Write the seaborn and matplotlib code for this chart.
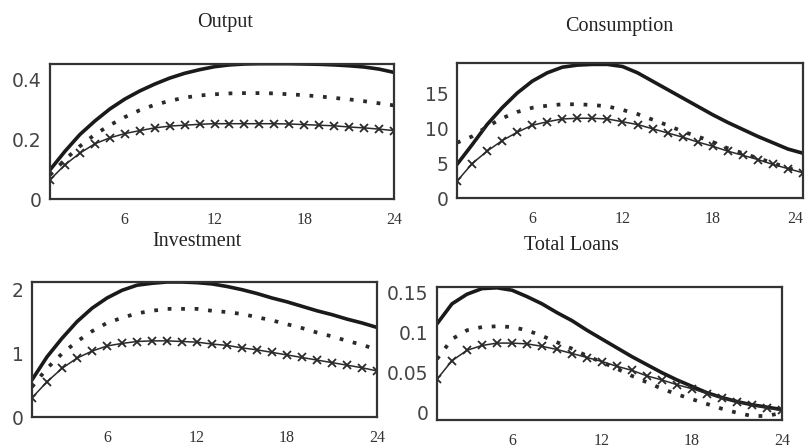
import matplotlib
matplotlib.use("Agg")
import matplotlib.pyplot as plt
import numpy as np
import pandas as pd
import seaborn as sns

# horizon (quarters)
periods = list(range(1, 25))
xticks = [6, 12, 18, 24]

# Output
output_solid = [0.097, 0.159, 0.215, 0.26, 0.30, 0.333, 0.36, 0.383, 0.403, 0.419, 0.431, 0.441,
                0.447, 0.45, 0.451, 0.451, 0.451, 0.45, 0.449, 0.447, 0.444, 0.440, 0.433, 0.422]
output_dotted = [0.08, 0.131, 0.176, 0.215, 0.246, 0.273, 0.296, 0.314, 0.327, 0.338, 0.345, 0.349,
                 0.352, 0.353, 0.353, 0.352, 0.349, 0.346, 0.342, 0.337, 0.332, 0.326, 0.319, 0.312]
output_cross = [0.064, 0.114, 0.153, 0.184, 0.204, 0.218, 0.228, 0.237, 0.243, 0.246, 0.249, 0.251,
                0.251, 0.251, 0.251, 0.251, 0.250, 0.248, 0.246, 0.244, 0.240, 0.237, 0.233, 0.228]

# Consumption
cons_solid = [4.8, 7.6, 10.5, 12.9, 15.0, 16.7, 17.9, 18.7, 19.0, 19.1, 19.1, 18.8,
              17.9, 16.7, 15.5, 14.3, 13.1, 11.9, 10.8, 9.8, 8.8, 7.9, 7.0, 6.4]
cons_dotted = [7.9, 8.8, 10.2, 11.4, 12.3, 12.9, 13.2, 13.4, 13.4, 13.3, 13.1, 12.6,
               12.0, 11.2, 10.4, 9.5, 8.8, 8.0, 7.1, 6.4, 5.7, 5.0, 4.3, 3.6]
cons_cross = [2.4, 4.9, 6.7, 8.2, 9.4, 10.4, 10.9, 11.3, 11.4, 11.4, 11.3, 10.9,
              10.5, 9.9, 9.3, 8.7, 8.0, 7.4, 6.7, 6.1, 5.5, 4.8, 4.2, 3.6]

# Investment
inv_solid = [0.58, 0.94, 1.23, 1.49, 1.70, 1.86, 1.98, 2.06, 2.09, 2.11, 2.11, 2.10,
             2.08, 2.04, 1.99, 1.93, 1.86, 1.80, 1.73, 1.66, 1.60, 1.53, 1.47, 1.40]
inv_dotted = [0.47, 0.76, 0.99, 1.18, 1.34, 1.47, 1.55, 1.62, 1.66, 1.69, 1.69, 1.69,
              1.66, 1.64, 1.61, 1.56, 1.51, 1.45, 1.39, 1.32, 1.26, 1.19, 1.13, 1.05]
inv_cross = [0.30, 0.55, 0.76, 0.92, 1.03, 1.11, 1.15, 1.18, 1.19, 1.19, 1.18, 1.17,
             1.14, 1.12, 1.08, 1.05, 1.01, 0.97, 0.93, 0.89, 0.85, 0.81, 0.77, 0.72]

# Total loans
loans_solid = [0.111, 0.136, 0.148, 0.155, 0.156, 0.153, 0.145, 0.136, 0.125, 0.115, 0.103, 0.092,
               0.081, 0.070, 0.060, 0.050, 0.041, 0.033, 0.025, 0.019, 0.014, 0.010, 0.007, 0.004]
loans_dotted = [0.067, 0.092, 0.103, 0.107, 0.108, 0.107, 0.103, 0.096, 0.088, 0.080, 0.071, 0.063,
                0.055, 0.046, 0.038, 0.030, 0.023, 0.017, 0.011, 0.005, 0.0, -0.004, -0.004, 0.0]
loans_cross = [0.042, 0.065, 0.078, 0.084, 0.087, 0.087, 0.086, 0.083, 0.079, 0.074, 0.069, 0.064,
               0.058, 0.053, 0.046, 0.041, 0.035, 0.030, 0.024, 0.019, 0.014, 0.010, 0.006, 0.003]

panels = [
    ("Output", output_solid, output_dotted, output_cross, (0, 0.45), [0, 0.2, 0.4], ["0", "0.2", "0.4"]),
    ("Consumption", cons_solid, cons_dotted, cons_cross, (0, 19.3), [0, 5, 10, 15], ["0", "5", "10", "15"]),
    ("Investment", inv_solid, inv_dotted, inv_cross, (0, 2.11), [0, 1, 2], ["0", "1", "2"]),
    ("Total Loans", loans_solid, loans_dotted, loans_cross, (-0.009, 0.157),
     [0, 0.05, 0.1, 0.15], ["0", "0.05", "0.1", "0.15"]),
]

# axes boxes in pixels: left, top, right, bottom
W, H = 809, 448
boxes = [(50, 64, 394, 199), (457, 63, 803, 198), (32, 282, 377, 417), (437, 287, 782, 420)]
title_pos = [(225, 23), (619, 26), (197, 241), (571, 245)]

sns.set_style("white")
plt.rcParams['font.family'] = ['DejaVu Sans']

fig = plt.figure(figsize=(W / 100, H / 100), dpi=100)

for (name, solid, dotted, cross, ylim, yt, ytl), box, tp in zip(panels, boxes, title_pos):
    l, t, r, b = box
    ax = fig.add_axes([l / W, 1 - b / H, (r - l) / W, (b - t) / H])
    df = pd.DataFrame({"t": periods, "solid": solid, "dotted": dotted, "cross": cross})
    sns.lineplot(data=df, x="t", y="solid", ax=ax, color="#1a1a1a", linewidth=2.6)
    sns.lineplot(data=df, x="t", y="dotted", ax=ax, color="#2a2a2a", linewidth=2.7,
                 linestyle=(0, (1, 2.6)))
    sns.lineplot(data=df, x="t", y="cross", ax=ax, color="#2a2a2a", linewidth=1.1,
                 marker="x", markersize=6, markeredgewidth=1.3, markeredgecolor="#2a2a2a")
    ax.set_xlim(1, 24)
    ax.set_ylim(*ylim)
    ax.set_xticks(xticks)
    labels = ax.set_xticklabels([str(v) for v in xticks], family="Liberation Serif",
                                fontsize=11.5, color="#333333")
    if r > 795:
        # last label sits at the figure edge; keep it inside
        labels[-1].set_horizontalalignment("right")
    ax.set_yticks(yt)
    ax.set_yticklabels(ytl, fontsize=13.5, color="#444444")
    ax.tick_params(axis="both", length=0)
    ax.tick_params(axis="x", pad=9)
    ax.tick_params(axis="y", pad=6)
    ax.set_xlabel("")
    ax.set_ylabel("")
    for s in ax.spines.values():
        s.set_visible(True)
        s.set_color("#333333")
        s.set_linewidth(1.6)
    fig.text(tp[0] / W, 1 - tp[1] / H, name, ha="center", va="center",
             family="Liberation Serif", fontsize=14.5, color="#222222")

fig.savefig("out.png", dpi=100)
